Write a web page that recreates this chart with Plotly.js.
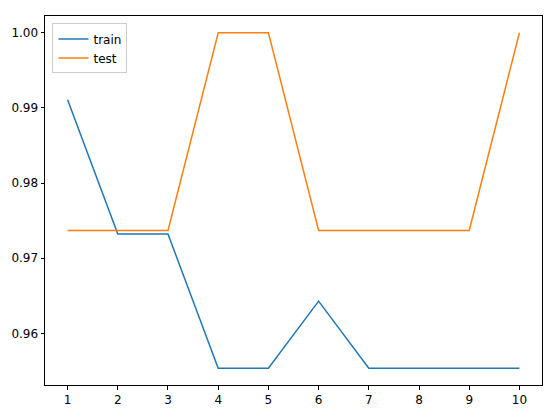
<!DOCTYPE html>
<html><head><meta charset="utf-8">
<script src="https://cdn.plot.ly/plotly-3.0.1.min.js"></script>
<style>html,body{margin:0;padding:0;background:#fff}</style>
</head><body>
<div id="chart" style="width:552px;height:414px"></div>
<script>
const epochs = [1,2,3,4,5,6,7,8,9,10];
const trainAcc = [111/112, 109/112, 109/112, 107/112, 107/112, 108/112, 107/112, 107/112, 107/112, 107/112];
const testAcc = [37/38, 37/38, 37/38, 1.0, 1.0, 37/38, 37/38, 37/38, 37/38, 1.0];
const xTicks = [1,2,3,4,5,6,7,8,9,10];
const yTicks = [0.96,0.97,0.98,0.99,1.00];
const yTickText = ['0.96','0.97','0.98','0.99','1.00'];

const allY = trainAcc.concat(testAcc);
const ymin = Math.min(...allY), ymax = Math.max(...allY);
const pad = (ymax - ymin) * 0.05;

const axisCommon = {
  showline: true, mirror: true, linecolor: '#000', linewidth: 1,
  ticks: 'outside', ticklen: 3.5, tickwidth: 1, tickcolor: '#000',
  showgrid: false, zeroline: false,
  tickfont: {family: 'DejaVu Sans', size: 12, color: '#000'}
};

Plotly.newPlot('chart', [
  {x: epochs, y: trainAcc, name: 'train', mode: 'lines', line: {color: '#1f77b4', width: 1.5}},
  {x: epochs, y: testAcc, name: 'test', mode: 'lines', line: {color: '#ff7f0e', width: 1.5}}
], {
  width: 552, height: 414,
  margin: {l: 45, r: 10, t: 16, b: 29},
  paper_bgcolor: '#fff', plot_bgcolor: '#fff',
  font: {family: 'DejaVu Sans', size: 12, color: '#000'},
  xaxis: Object.assign({}, axisCommon, {range: [0.55, 10.45], tickvals: xTicks}),
  yaxis: Object.assign({}, axisCommon, {range: [ymin - pad, ymax + pad], tickvals: yTicks, ticktext: yTickText}),
  legend: {x: 0.015, y: 0.98, xanchor: 'left', yanchor: 'top', bgcolor: 'rgba(255,255,255,0.8)',
           bordercolor: '#cccccc', borderwidth: 1, tracegroupgap: 0,
           font: {family: 'DejaVu Sans', size: 12, color: '#000'}},
  showlegend: true
}, {displayModeBar: false, staticPlot: true});
</script>
</body></html>
